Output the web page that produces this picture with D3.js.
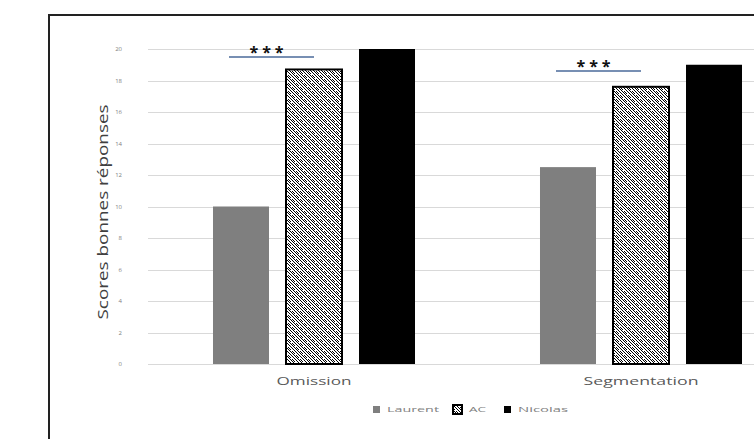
<!DOCTYPE html>
<html>
<head>
<meta charset="utf-8">
<script src="https://cdn.jsdelivr.net/npm/d3@7"></script>
<style>
  html, body { margin: 0; padding: 0; background: #fff; }
  svg { display: block; }
</style>
</head>
<body>
<svg id="chart" width="754" height="439"></svg>
<script>
// Scores per task and per participant
const categories = ["Omission", "Segmentation"];
const series = ["Laurent", "AC", "Nicolas"];
const laurent = [10, 12.5];
const ac = [18.7, 17.6];
const nicolas = [20, 19];
const yTicks = [0, 2, 4, 6, 8, 10, 12, 14, 16, 18, 20];
// Significance bar height (score units) above each task group
const sigLevel = [19.5, 18.6];
const sigLabel = ["***", "***"];

const values = [laurent, ac, nicolas];

const svg = d3.select("#chart");
const font = "'Open Sans', 'Liberation Sans', sans-serif";

// Pattern used for the AC bars: dotted downward diagonals
const defs = svg.append("defs");
const pat = defs.append("pattern")
  .attr("id", "acPattern")
  .attr("patternUnits", "userSpaceOnUse")
  .attr("width", 8).attr("height", 8);
pat.append("rect").attr("width", 8).attr("height", 8).attr("fill", "#fff");
const dots = [];
for (let k = 0; k < 8; k++) {
  dots.push([k, k]);
  dots.push([(k + 3) % 8, k]);
  if (k % 4 !== 2) dots.push([(k + 5) % 8, k]);
}
dots.forEach(([px, py]) => {
  pat.append("rect").attr("x", px).attr("y", py).attr("width", 1).attr("height", 1).attr("fill", "#000");
});

// Outer chart frame
svg.append("rect")
  .attr("x", 49).attr("y", 15).attr("width", 760).attr("height", 460)
  .attr("fill", "none").attr("stroke", "#222").attr("stroke-width", 2);

const y = d3.scaleLinear().domain([0, 20]).range([364, 49]);
const x0 = d3.scaleBand().domain(categories).range([150.5, 804.5]).padding(0);
const x1 = d3.scaleBand().domain(series).range([0, x0.bandwidth()])
  .paddingInner(0.233).paddingOuter(0.856);

// Horizontal gridlines
svg.append("g")
  .selectAll("line")
  .data(yTicks)
  .join("line")
  .attr("x1", 148).attr("x2", 810)
  .attr("y1", d => Math.round(y(d)) + 0.5)
  .attr("y2", d => Math.round(y(d)) + 0.5)
  .attr("stroke", "#d9d9d9").attr("stroke-width", 1);

// Y axis tick labels
const yAxis = d3.axisLeft(y).tickValues(yTicks).tickSize(0).tickPadding(0);
const gy = svg.append("g").attr("transform", "translate(122,0)").call(yAxis);
gy.select(".domain").remove();
gy.selectAll("text")
  .attr("font-family", font).attr("font-size", 6).attr("fill", "#808080");

// Bars
const fills = ["#7f7f7f", "url(#acPattern)", "#000"];
series.forEach((s, si) => {
  svg.append("g")
    .selectAll("rect")
    .data(categories.map((c, ci) => ({ c, v: values[si][ci] })))
    .join("rect")
    .attr("x", d => x0(d.c) + x1(s))
    .attr("width", x1.bandwidth())
    .attr("y", d => y(d.v))
    .attr("height", d => y(0) - y(d.v))
    .attr("fill", fills[si])
    .attr("stroke", si === 1 ? "#000" : "none")
    .attr("stroke-width", si === 1 ? 2 : 0);
});

// Category labels
const catWidth = { "Omission": 75, "Segmentation": 115 };
const gx = svg.append("g").attr("transform", "translate(0,364)")
  .call(d3.axisBottom(x0).tickSize(0).tickPadding(14));
gx.select(".domain").remove();
gx.selectAll("text")
  .attr("font-family", font).attr("font-size", 10.5).attr("fill", "#595959")
  .attr("textLength", d => catWidth[d]).attr("lengthAdjust", "spacingAndGlyphs");

// Significance markers between Laurent and AC
categories.forEach((c, ci) => {
  const xa = x0(c) + x1("Laurent") + x1.bandwidth() / 2 - 12;
  const xb = x0(c) + x1("AC") + x1.bandwidth() / 2;
  const yl = y(sigLevel[ci]);
  svg.append("line")
    .attr("x1", xa).attr("x2", xb).attr("y1", yl).attr("y2", yl)
    .attr("stroke", "#4a6a9a").attr("stroke-width", 1.5);
  svg.append("text")
    .attr("x", (xa + xb) / 2 - 3).attr("y", yl + 1)
    .attr("text-anchor", "middle")
    .attr("font-family", font).attr("font-size", 16).attr("font-weight", "bold")
    .attr("letter-spacing", 4).attr("fill", "#111")
    .text(sigLabel[ci]);
});

// Y axis title
svg.append("text")
  .attr("transform", "translate(108,212) rotate(-90)")
  .attr("text-anchor", "middle")
  .attr("font-family", font).attr("font-size", 14).attr("fill", "#404040")
  .attr("textLength", 215).attr("lengthAdjust", "spacingAndGlyphs")
  .text("Scores bonnes réponses");

// Legend
const legendX = [373, 453, 504];
const legendW = [52, 17, 50];
const legend = svg.append("g");
series.forEach((s, si) => {
  legend.append("rect")
    .attr("x", legendX[si]).attr("y", si === 1 ? 405 : 406)
    .attr("width", si === 1 ? 9 : 7).attr("height", si === 1 ? 9 : 7)
    .attr("fill", fills[si])
    .attr("stroke", si === 1 ? "#000" : "none").attr("stroke-width", si === 1 ? 2 : 0);
  legend.append("text")
    .attr("x", legendX[si] + (si === 1 ? 16 : 14)).attr("y", 412)
    .attr("font-family", font).attr("font-size", 7).attr("fill", "#7f7f7f")
    .attr("textLength", legendW[si]).attr("lengthAdjust", "spacingAndGlyphs")
    .text(s);
});
</script>
</body>
</html>
